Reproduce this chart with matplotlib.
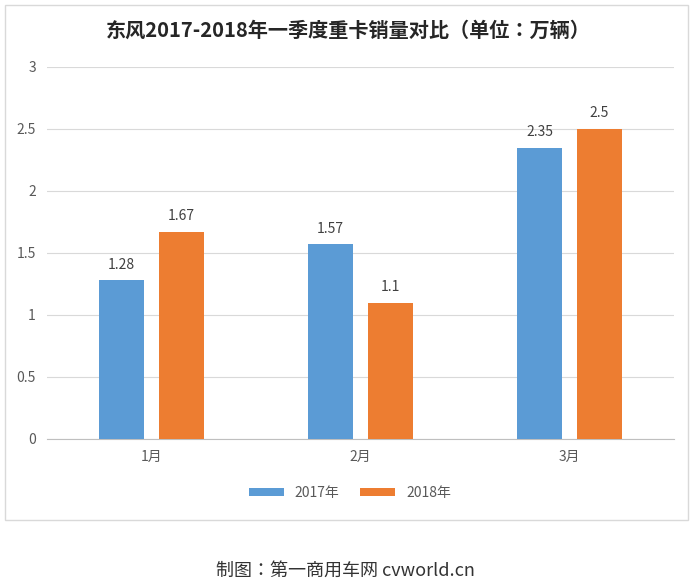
import matplotlib
matplotlib.use("Agg")
import matplotlib.pyplot as plt
from matplotlib import font_manager as fm
from matplotlib.patches import Rectangle
import numpy as np

cjk = None
for f in fm.findSystemFonts():
    if "CJK" in f and ("SC" in f or "Sans" in f):
        cjk = f
        if "SC" in f or ".ttc" in f:
            break
if cjk:
    fm.fontManager.addfont(cjk)
    name = fm.FontProperties(fname=cjk).get_name()
    plt.rcParams["font.family"] = [name, "DejaVu Sans"]

categories = ["1月", "2月", "3月"]
series_names = ["2017年", "2018年"]
v2017 = [1.28, 1.57, 2.35]
v2018 = [1.67, 1.1, 2.5]
yticks = [0, 0.5, 1, 1.5, 2, 2.5, 3]
title = "东风2017-2018年一季度重卡销量对比（单位：万辆）"
caption = "制图：第一商用车网 cvworld.cn"

W, H = 700, 582
fig = plt.figure(figsize=(W/100, H/100), dpi=100)
fig.patches.append(Rectangle((5/W, 1-520/H), 683/W, 515/H, transform=fig.transFigure,
                             fill=False, edgecolor="#d9d9d9", lw=1))
ax = fig.add_axes([47/W, 1-439/H, 627/W, 372/H])
x = np.arange(len(categories))
bw = 0.22
gap = 0.067
c1, c2 = "#5B9BD5", "#ED7D31"
b1 = ax.bar(x - (bw+gap)/2, v2017, bw, color=c1, label=series_names[0], zorder=3)
b2 = ax.bar(x + (bw+gap)/2, v2018, bw, color=c2, label=series_names[1], zorder=3)
for bars, vals in ((b1, v2017), (b2, v2018)):
    for r, v in zip(bars, vals):
        ax.text(r.get_x()+r.get_width()/2, v+0.07, f"{v:g}", ha="center", va="bottom",
                fontsize=10, color="#404040")
ax.set_xlim(-0.5, 2.5)
ax.set_ylim(0, 3)
ax.set_yticks(yticks)
ax.set_yticklabels([f"{t:g}" for t in yticks])
ax.set_xticks(x)
ax.set_xticklabels(categories)
ax.grid(axis="y", color="#d9d9d9", lw=0.8, zorder=0)
for s in ["top", "right", "left"]:
    ax.spines[s].set_visible(False)
ax.spines["bottom"].set_color("#bfbfbf")
ax.tick_params(length=0, colors="#595959", labelsize=10)
ax.tick_params(axis="y", pad=8)
ax.tick_params(axis="x", pad=8)
fig.text(348/W, 1-30/H, title, ha="center", va="center", fontsize=14.5, fontweight="bold", color="#262626")
fig.legend(loc="center", bbox_to_anchor=(350/W, 1-493/H), ncol=2, frameon=False,
           fontsize=10, handlelength=2.5, handleheight=0.5, columnspacing=1.5,
           labelcolor="#595959")
fig.text(345/W, 1-571/H, caption, ha="center", va="center", fontsize=13, color="#333333")
fig.savefig("out.png", dpi=100)
